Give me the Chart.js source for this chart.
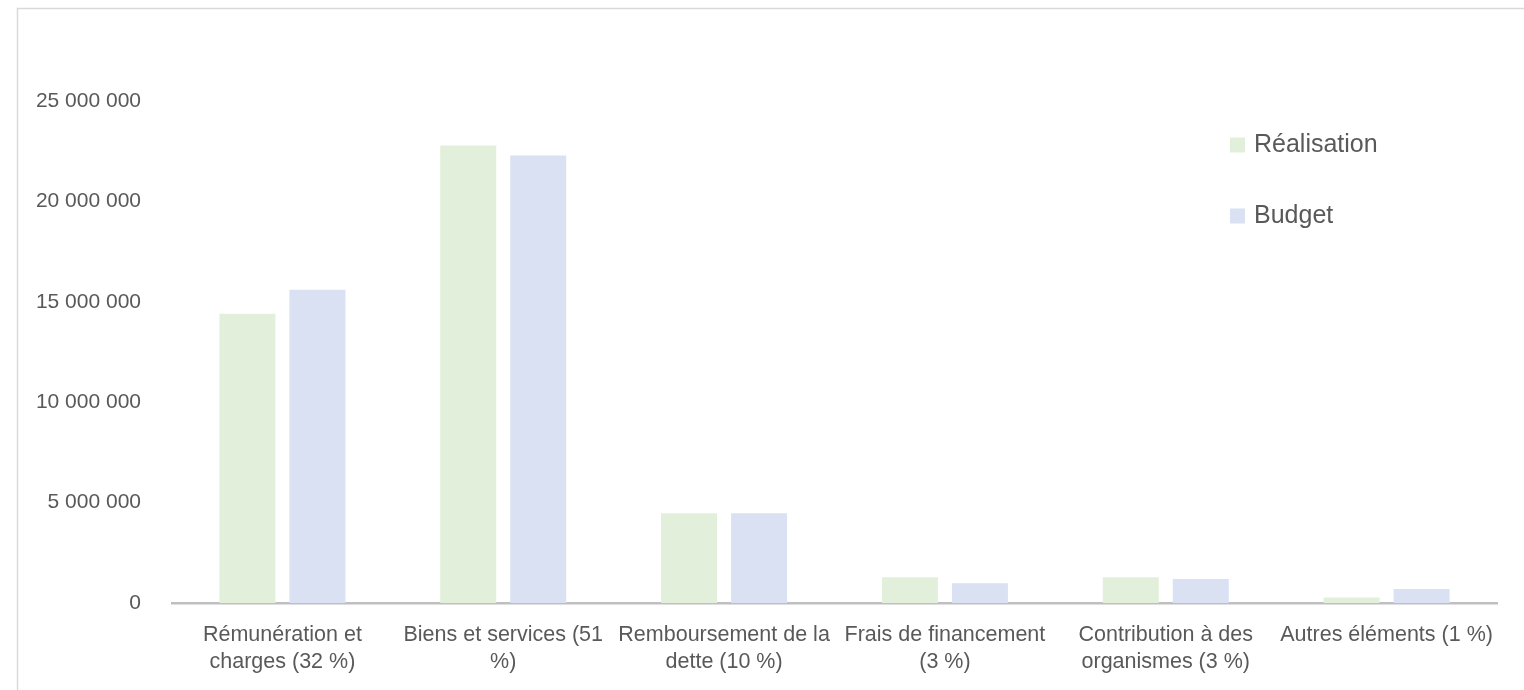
<!DOCTYPE html>
<html lang="fr">
<head>
<meta charset="utf-8">
<title>Réalisation et budget par poste</title>
<script src="https://cdn.jsdelivr.net/npm/chart.js@4/dist/chart.umd.min.js"></script>
<style>
  html, body { margin: 0; padding: 0; background: #fff; }
  canvas { display: block; }
</style>
</head>
<body>
<canvas id="depenses" width="1524" height="690"></canvas>
<script>
const categories = [
    ['Rémunération et', 'charges (32 %)'],
    ['Biens et services (51', '%)'],
    ['Remboursement de la', 'dette (10 %)'],
    ['Frais de financement', '(3 %)'],
    ['Contribution à des', 'organismes (3 %)'],
    'Autres éléments (1 %)'
]
const realisation = [14410000, 22780000, 4470000, 1280000, 1280000, 280000]
const budget = [15600000, 22280000, 4470000, 980000, 1200000, 700000]
const yTicks = [0, 5000000, 10000000, 15000000, 20000000, 25000000]

const textColor = '#595959'
const fontFamily = "'Liberation Sans', Arial, sans-serif"

// thousands separated by spaces: 25 000 000
const formatNumber = v => String(v).replace(/\B(?=(\d{3})+(?!\d))/g, ' ')

// thin frame along the top and left edges
const frame = {
    id: 'frame',
    beforeDraw(chart) {
        const { ctx, width, height } = chart
        ctx.save()
        ctx.strokeStyle = '#d9d9d9'
        ctx.lineWidth = 1.5
        ctx.beginPath()
        ctx.moveTo(17.5, height)
        ctx.lineTo(17.5, 8.5)
        ctx.lineTo(width, 8.5)
        ctx.stroke()
        ctx.restore()
    }
}

// legend stacked vertically at the upper right
const sideLegend = {
    id: 'sideLegend',
    afterDraw(chart) {
        const { ctx } = chart
        ctx.save()
        ctx.font = '25px ' + fontFamily
        ctx.textBaseline = 'middle'
        ctx.textAlign = 'left'
        chart.data.datasets.forEach((ds, i) => {
            const y = 145 + i * 71
            ctx.fillStyle = ds.backgroundColor
            ctx.fillRect(1230, y - 7.5, 15, 15)
            ctx.fillStyle = textColor
            ctx.fillText(ds.label, 1254, y)
        })
        ctx.restore()
    }
}

new Chart(document.getElementById('depenses'), {
    type: 'bar',
    data: {
        labels: categories,
        datasets: [
            {
                label: 'Réalisation',
                data: realisation,
                backgroundColor: '#e2efda'
            },
            {
                label: 'Budget',
                data: budget,
                backgroundColor: '#d9e1f2'
            }
        ]
    },
    plugins: [frame, sideLegend],
    options: {
        responsive: false,
        animation: false,
        categoryPercentage: 0.634,
        barPercentage: 0.8,
        layout: {
            padding: { top: 101, right: 27, bottom: 0, left: 0 }
        },
        scales: {
            x: {
                grid: { display: false, drawTicks: false },
                border: { display: true, color: '#bfbfbf', width: 2.5 },
                ticks: {
                    color: textColor,
                    padding: 18.5,
                    maxRotation: 0,
                    autoSkip: false,
                    font: { family: fontFamily, size: 21.5, lineHeight: 1.256 }
                },
                afterFit(scale) { scale.height = 87 }
            },
            y: {
                min: 0,
                max: 25000000,
                grid: { display: false, drawTicks: false },
                border: { display: false },
                afterBuildTicks(scale) {
                    scale.ticks = yTicks.map(v => ({ value: v }))
                },
                ticks: {
                    color: textColor,
                    padding: 31,
                    font: { family: fontFamily, size: 21 },
                    callback: v => formatNumber(v)
                },
                afterFit(scale) { scale.width = 172 }
            }
        },
        plugins: {
            legend: { display: false },
            tooltip: { enabled: false }
        }
    }
})
</script>
</body>
</html>
